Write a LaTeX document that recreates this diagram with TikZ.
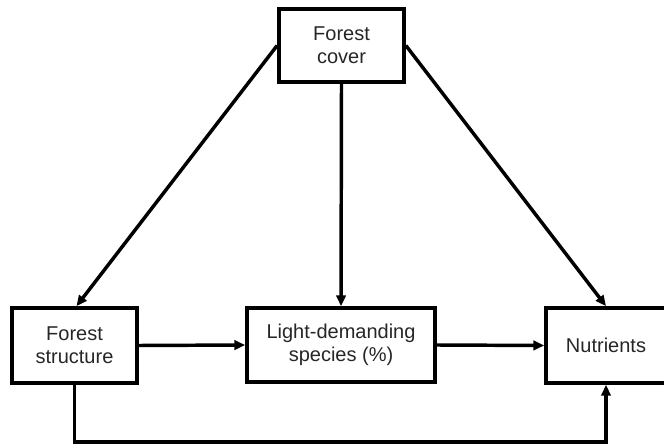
\documentclass[tikz,border=0pt]{standalone}
\usepackage{fontspec}
\setmainfont{Liberation Sans}
\usetikzlibrary{arrows.meta}

\begin{document}
\begin{tikzpicture}[x=0.75pt,y=0.75pt,yscale=-1,xscale=1,
  box/.style={draw,line width=2.8pt,align=center,inner sep=0.75pt,
    font=\fontsize{15}{17.5}\selectfont,text=black!85},
  link/.style={line width=2.6pt,-{Triangle[length=8pt,width=7pt]}}]
  \path[use as bounding box] (0,0) rectangle (664,445);

  %Shape: Rectangle [Forest cover]
  \node[box,minimum width=93.75pt,minimum height=54.75pt] (cover) at (341.5,45.5) {Forest\\cover};
  %Shape: Rectangle [Forest structure]
  \node[box,minimum width=93.75pt,minimum height=56.25pt] (struct) at (74.5,345.5) {Forest\\structure};
  %Shape: Rectangle [Light-demanding species]
  \node[box,minimum width=141pt,minimum height=55.5pt] (light) at (341,345) {Light-demanding\\species (\%)};
  %Shape: Rectangle [Nutrients]
  \node[box,minimum width=90pt,minimum height=56.25pt] (nutr) at (606,345.5) {Nutrients};
  \coordinate (low) at (0,442);

  %Straight Lines
  \draw[link] (cover.west) -- ([xshift=1.5pt]struct.north);
  \draw[link] (cover.south) -- (light.north);
  \draw[link] (cover.east) -- (nutr.north);
  \draw[link] (struct.east) -- (light.west);
  \draw[link] (light.east) -- (nutr.west);
  \draw[link] (struct.south) -- (struct.south |- low) -| (nutr.south);

\end{tikzpicture}
\end{document}
